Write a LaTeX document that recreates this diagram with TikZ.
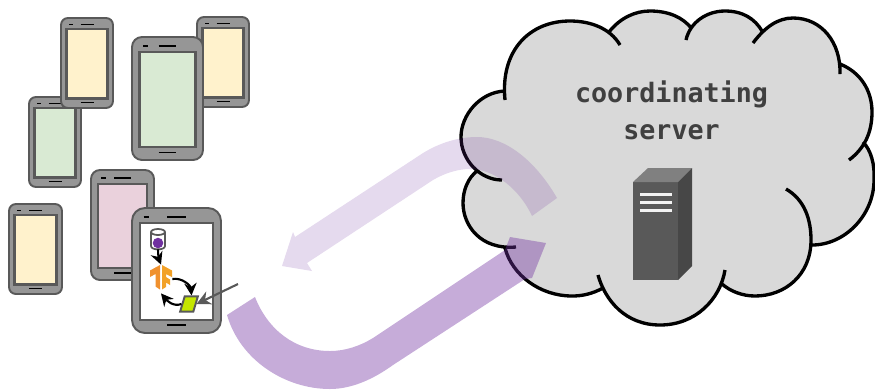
\documentclass[tikz,border=0pt]{standalone}
\usepackage{fontspec}
\usepackage{tikz}
\usetikzlibrary{arrows.meta}
\newfontfamily\labelfont{DejaVu Sans Mono}[BoldFont={DejaVu Sans Mono Bold}]

\definecolor{phonegray}{HTML}{969696}
\definecolor{edgegray}{HTML}{595959}
\definecolor{cloudgray}{HTML}{D9D9D9}
\definecolor{screenyellow}{HTML}{FFF2CC}
\definecolor{screengreen}{HTML}{D9EAD3}
\definecolor{screenpink}{HTML}{EAD1DC}
\definecolor{flowpurple}{HTML}{7030A0}
\definecolor{tforange}{HTML}{F0912E}
\definecolor{datalime}{HTML}{C4E600}

\tikzset{
	phonebody/.style={draw=edgegray,fill=phonegray,line width=1.1pt},
	phoneslot/.style={black,line width=1pt},
	flowtip/.style={-{Stealth[length=7pt,width=7pt]},black,line width=1.2pt},
}

% cloud lobes, #1 joins them (-- for the fill, nothing for the outline)
\newcommand{\cloudlobes}[1]{
	(505,100) .. controls (500,50) and (530,21) .. (570,21) .. controls (590,21) and (610,28) .. (620,45) #1
	(609,32) .. controls (620,18) and (635,11) .. (650,11) .. controls (668,11) and (683,17) .. (692,29) #1
	(686,40) .. controls (690,22) and (707,11) .. (725,11) .. controls (743,11) and (755,19) .. (762,31) #1
	(753,43) .. controls (765,27) and (778,18) .. (793,18) .. controls (822,18) and (841,43) .. (840,74) #1
	(840,64) .. controls (860,72) and (872,90) .. (872,112) .. controls (872,132) and (865,148) .. (849,160) #1
	(863,142) .. controls (871,150) and (875,165) .. (874,180) .. controls (874,215) and (845,245) .. (812,245) #1
	(786,189) .. controls (805,200) and (811,220) .. (811,240) .. controls (811,275) and (785,296) .. (755,296) .. controls (742,296) and (730,291) .. (722,284) #1
	(725,270) .. controls (720,300) and (695,325) .. (660,325) .. controls (625,325) and (605,300) .. (598,275) #1
	(603,288) .. controls (592,294) and (582,296) .. (572,296) .. controls (540,296) and (512,275) .. (505,248) #1
	(516,247) .. controls (480,250) and (463,225) .. (463,203) .. controls (463,190) and (468,178) .. (477,171) #1
	(502,180) .. controls (480,180) and (461,160) .. (461,137) .. controls (461,115) and (480,92) .. (505,91)
}

\begin{document}
\begin{tikzpicture}[x=0.02cm,y=-0.02cm]
	\useasboundingbox (0,0) rectangle (875,390);

	% phones, back to front
	\foreach \xa/\ya/\xb/\yb/\s/\r/\screen in {
		197/17/249/107/1/7/screenyellow,
		132/37/203/160/1.37/10/screengreen,
		29/97/81/187/1/7/screengreen,
		61/18/113/108/1/7/screenyellow,
		9/204/62/294/1/7/screenyellow,
		91/170/154/280/1.25/9/screenpink,
		132/208/221/333/1.4/13/white}
	{
		\draw[phonebody,rounded corners=\r*0.567pt] (\xa,\ya) rectangle (\xb,\yb);
		\draw[draw=edgegray,fill=\screen,line width=1.2pt]
			({\xa+5.5*\s},{\ya+11*\s}) rectangle ({\xb-5.5*\s},{\yb-9.5*\s});
		\draw[phoneslot] ({\xa+8.3*\s},{\ya+6.5*\s}) -- ++({3.7*\s},0);
		\draw[phoneslot] ({(\xa+\xb)/2-6.5*\s},{\ya+6.5*\s}) -- ++({13*\s},0);
		\draw[phoneslot] ({(\xa+\xb)/2-6.5*\s},{\yb-5.5*\s}) -- ++({13*\s},0);
	}

	% on the front phone
	\node[inner sep=0pt,minimum width=8pt,minimum height=11.3pt] (store) at (158,239) {};
	\draw[edgegray,fill=white,line width=1pt] (151,232) -- (151,246) .. controls (151,250.5) and (165,250.5) .. (165,246) -- (165,232);
	\draw[edgegray,fill=white,line width=1pt] (158,232) ellipse [x radius=7,y radius=3];
	\node[circle,fill=flowpurple,inner sep=0pt,minimum size=6pt] (record) at (158,243) {};
	\node[inner sep=0pt,minimum width=12.5pt,minimum height=16pt] (model) at (161,279) {};
	\fill[tforange] (160,265) -- (150,270.5) -- (150,277) -- (155.5,274) -- (155.5,286.5) -- (160,289.5) -- cycle;
	\fill[tforange!85!yellow] (162,265) -- (172,270.5) -- (172,277) -- (166,274) -- (166,277) -- (170,279.5)
		-- (170,285) -- (166,282.5) -- (166,287) -- (162,289.5) -- cycle;
	\node[draw=edgegray,fill=datalime,line width=1.1pt,xslant=0.3,inner sep=0pt,
		minimum width=7.5pt,minimum height=8.6pt] (sample) at (189,304) {};
	\coordinate (pointer) at (238,284);

	\draw[flowtip] (store.south) to[bend right=10] (model.north);
	\draw[flowtip] (model.east) to[out=10,in=95] (sample.north);
	\draw[flowtip] (sample.west) to[out=200,in=-50] (model.south);
	\draw[-{Stealth[length=8pt,width=8pt]},edgegray,line width=1.2pt] (pointer) -- (sample.east);

	% cloud and server
	\fill[cloudgray] \cloudlobes{--} -- cycle;
	\draw[black,line width=1.9pt] \cloudlobes{};

	\node[align=center,text=black!75,font=\labelfont\bfseries\fontsize{15.2}{20.7}\selectfont] (serverlabel) at (671.5,110.5) {coordinating\\server};

	\fill[edgegray] (633,182) rectangle (678,280);
	\fill[black!50] (633,182) -- (648,168) -- (692,168) -- (678,182) -- cycle;
	\fill[black!72] (678,182) -- (692,168) -- (692,266) -- (678,280) -- cycle;
	\foreach \y in {194.7,202.7,210.7}
		\fill[black!5] (640,\y-1.5) rectangle (671.7,\y+1.5);

	% the two flows, drawn over everything
	\fill[flowpurple,opacity=0.18] (557,198) .. controls (535,160) and (505,137) .. (477,137)
		.. controls (455,137) and (435,145) .. (420,155) -- (295,237) -- (293,232) -- (282,266)
		-- (312,271) -- (307,263) -- (433,180) .. controls (445,173) and (458,169) .. (470,169)
		.. controls (495,169) and (520,190) .. (532,216) -- cycle;
	\fill[flowpurple,opacity=0.4] (227,315) .. controls (240,360) and (285,389) .. (330,389)
		.. controls (353,389) and (375,378) .. (393,365) -- (525,279) -- (532,278) -- (546,243)
		-- (510,237) -- (505,250) -- (373,338) .. controls (360,346) and (345,351) .. (330,351)
		.. controls (295,351) and (268,330) .. (255,297) -- cycle;
\end{tikzpicture}
\end{document}
